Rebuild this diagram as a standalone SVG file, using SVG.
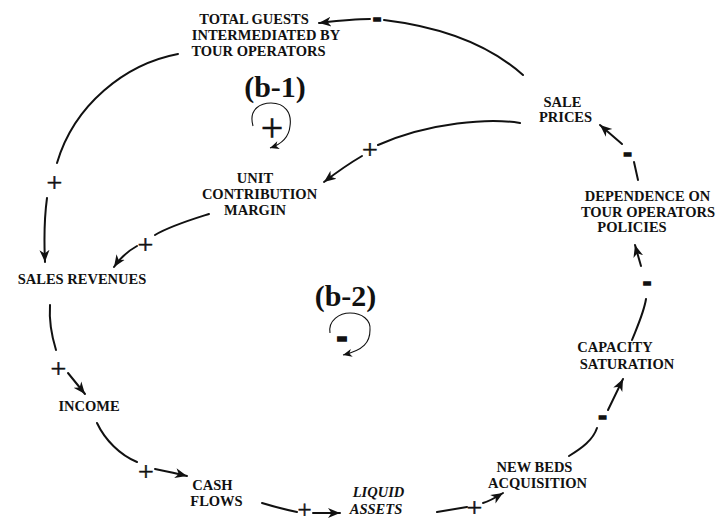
<svg xmlns="http://www.w3.org/2000/svg" width="719" height="523" viewBox="0 0 719 523">
  <style>
    .lbl { font-family: "Liberation Serif", "Times New Roman", serif; font-weight: bold; font-size: 14.5px; text-anchor: middle; fill: #111; }
    .ital { font-style: italic; }
    .loop { font-family: "Liberation Serif", "Times New Roman", serif; font-weight: bold; font-size: 30px; text-anchor: middle; fill: #111; }
    .plus { font-family: "Liberation Serif", "Times New Roman", serif; font-size: 28px; text-anchor: middle; fill: #111; stroke: #111; stroke-width: 0.5; }
    .minus { font-family: "Liberation Sans", Arial, sans-serif; font-weight: bold; font-size: 26px; text-anchor: middle; fill: #111; stroke: #111; stroke-width: 1.4; }
    .link { fill: none; stroke: #111; stroke-width: 2; stroke-linecap: round; }
    .arrow { marker-end: url(#head); }
    .ring { fill: none; stroke: #111; stroke-width: 1.1; marker-end: url(#headSmall); }
  </style>
  <defs>
    <marker id="head" viewBox="-12 -6 13 12" refX="0" refY="0" markerWidth="13" markerHeight="12" markerUnits="userSpaceOnUse" orient="auto">
      <path d="M0,0 L-12,-5 L-8.5,0 L-12,5 Z" fill="#111"/>
    </marker>
    <marker id="headSmall" viewBox="-10 -5 11 10" refX="0" refY="0" markerWidth="11" markerHeight="10" markerUnits="userSpaceOnUse" orient="auto">
      <path d="M0,0 L-9,-4 L-6.5,0 L-9,4 Z" fill="#111"/>
    </marker>
  </defs>

  <!-- causal links -->
  <g id="connectors">
    <!-- sale prices -> total guests (-) -->
    <path class="link" d="M523,75 C 495,50 450,28 384,20"/>
    <path class="link arrow" d="M370,19 C 352,19 336,21 319,23"/>
    <text class="minus" x="377" y="25.5">-</text>

    <!-- total guests -> sales revenues (+) -->
    <path class="link" d="M178,54 C 125,64 74,105 57,163"/>
    <path class="link arrow" d="M47,198 C 44,220 44,240 45,262"/>
    <text class="plus" x="54.5" y="191.5">+</text>

    <!-- sale prices -> unit contribution margin (+) -->
    <path class="link" d="M520,123 C 490,118 430,122 378,145"/>
    <path class="link arrow" d="M362,156 C 350,163 337,172 324,182"/>
    <text class="plus" x="370" y="158.5">+</text>

    <!-- unit contribution margin -> sales revenues (+) -->
    <path class="link" d="M209,214 C 190,220 170,226 155,235"/>
    <path class="link arrow" d="M137,246 C 128,251 120,258 114,267"/>
    <text class="plus" x="145.5" y="254">+</text>

    <!-- sales revenues -> income (+) -->
    <path class="link" d="M50,305 C 49,320 52,337 56,350"/>
    <path class="link arrow" d="M68,373 L85,394"/>
    <text class="plus" x="58.5" y="378">+</text>

    <!-- income -> cash flows (+) -->
    <path class="link" d="M97,423 C 105,440 120,455 137,462"/>
    <path class="link arrow" d="M155,469 C 165,471 175,473 187,476"/>
    <text class="plus" x="146" y="480.5">+</text>

    <!-- cash flows -> liquid assets (+) -->
    <path class="link" d="M262,503 C 275,507 287,510 297,512"/>
    <path class="link arrow" d="M313,513 L340,513"/>
    <text class="plus" x="304.5" y="517.5" style="font-size:25px">+</text>

    <!-- liquid assets -> new beds acquisition (+) -->
    <path class="link" d="M437,512 L467,507"/>
    <path class="link arrow" d="M483,503 C 490,501 495,498 503,493"/>
    <text class="plus" x="474.5" y="517">+</text>

    <!-- new beds acquisition -> capacity saturation (-) -->
    <path class="link" d="M569,456 C 582,448 593,440 597,428"/>
    <path class="link arrow" d="M608,410 L623,379"/>
    <text class="minus" x="602.5" y="423.5">-</text>

    <!-- capacity saturation -> dependence on tour operators policies (-) -->
    <path class="link" d="M632,340 C 638,325 644,312 646,299"/>
    <path class="link arrow" d="M641,266 L635,245"/>
    <text class="minus" x="647" y="290">-</text>

    <!-- dependence on tour operators policies -> sale prices (-) -->
    <path class="link" d="M638,180 L634,162"/>
    <path class="link arrow" d="M622,144 L600,125"/>
    <text class="minus" x="627.5" y="160.5">-</text>
  </g>

  <!-- loop markers -->
  <g id="loop-b1">
    <text class="loop" x="275" y="97">(b-1)</text>
    <path class="ring" d="M253,126 C 248,108 262,103 271,103 C 285,103 292,113 290,126 C 289,137 282,144 270,148"/>
    <text class="plus" x="272" y="141" style="font-size:40px">+</text>
  </g>
  <g id="loop-b2">
    <text class="loop" x="345.5" y="306">(b-2)</text>
    <path class="ring" d="M330,333 C 328,320 340,313 350,313 C 362,313 371,320 370,330 C 370,342 364,350 343,355"/>
    <text class="minus" x="342" y="347.5" style="font-size:33px;stroke-width:1.6">-</text>
  </g>

  <!-- variables -->
  <g id="total-guests">
    <text class="lbl" x="254" y="24">TOTAL GUESTS</text>
    <text class="lbl" x="266" y="40">INTERMEDIATED BY</text>
    <text class="lbl" x="258.5" y="56">TOUR OPERATORS</text>
  </g>
  <g id="sale-prices">
    <text class="lbl" x="562.5" y="107">SALE</text>
    <text class="lbl" x="565.5" y="122">PRICES</text>
  </g>
  <g id="unit-contribution-margin">
    <text class="lbl" x="255" y="183">UNIT</text>
    <text class="lbl" x="259.5" y="199">CONTRIBUTION</text>
    <text class="lbl" x="255" y="215">MARGIN</text>
  </g>
  <g id="dependence-on-tour-operators">
    <text class="lbl" x="647.5" y="201">DEPENDENCE ON</text>
    <text class="lbl" x="648" y="217">TOUR OPERATORS</text>
    <text class="lbl" x="632" y="232">POLICIES</text>
  </g>
  <g id="sales-revenues">
    <text class="lbl" x="82" y="284">SALES REVENUES</text>
  </g>
  <g id="income">
    <text class="lbl" x="89" y="411">INCOME</text>
  </g>
  <g id="cash-flows">
    <text class="lbl" x="212.5" y="490">CASH</text>
    <text class="lbl" x="216.5" y="506">FLOWS</text>
  </g>
  <g id="liquid-assets">
    <text class="lbl ital" x="378.5" y="497">LIQUID</text>
    <text class="lbl ital" x="376" y="514">ASSETS</text>
  </g>
  <g id="new-beds-acquisition">
    <text class="lbl" x="534.5" y="472">NEW BEDS</text>
    <text class="lbl" x="537.5" y="488">ACQUISITION</text>
  </g>
  <g id="capacity-saturation">
    <text class="lbl" x="615" y="352">CAPACITY</text>
    <text class="lbl" x="627" y="369">SATURATION</text>
  </g>
</svg>
